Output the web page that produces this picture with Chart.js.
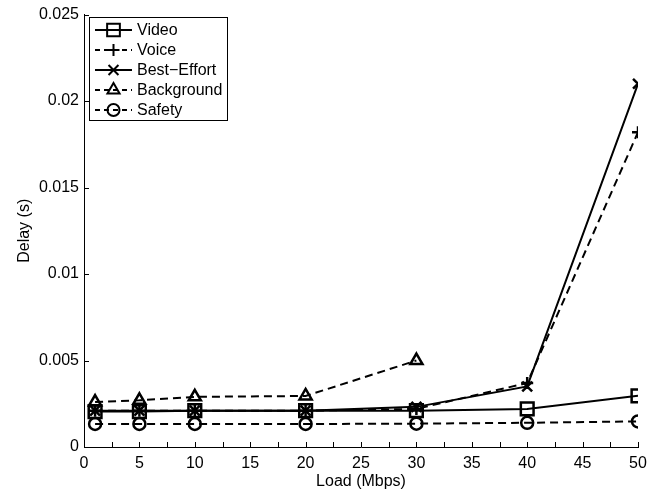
<!DOCTYPE html>
<html>
<head>
<meta charset="utf-8">
<script src="https://cdn.jsdelivr.net/npm/chart.js@4"></script>
<style>
  html,body{margin:0;padding:0;background:#fff;}
  #wrap{width:656px;height:493px;}
</style>
</head>
<body>
<div id="wrap"><canvas id="ch" width="656" height="493"></canvas></div>
<script>
// data
const loads = [1, 5, 10, 20, 30, 40, 50];
const videoDelay = [0.00205, 0.00205, 0.0021, 0.0021, 0.0021, 0.0022, 0.00296];
const voiceDelay = [0.0021, 0.0021, 0.0021, 0.0021, 0.0022, 0.0037, 0.0182];
const bestEffortDelay = [0.0021, 0.0021, 0.0021, 0.0021, 0.00232, 0.0035, 0.0210];
const backgroundDelay = [0.0026, 0.0027, 0.0029, 0.00295, 0.0050];
const safetyDelay = [0.00133, 0.00133, 0.00133, 0.00133, 0.00135, 0.0014, 0.00148];
const xTicks = [0, 5, 10, 15, 20, 25, 30, 35, 40, 45, 50];
const yTicks = [0, 0.005, 0.01, 0.015, 0.02, 0.025];

const FONT = 'Liberation Sans, Arial, Helvetica, sans-serif';
const DASH = [8, 5];

function pts(ys){ return ys.map((y,i)=>({x:loads[i], y})); }

function series(label, ys, style, radius, dashed){
  return {
    label, data: pts(ys),
    borderColor:'#000', borderWidth:2, borderDash: dashed ? DASH : [],
    pointStyle: style, pointRadius: radius, pointBorderWidth: 2.5,
    pointBorderColor:'#000', pointBackgroundColor:'rgba(0,0,0,0)',
    fill:false, tension:0
  };
}

// inward tick marks, matlab style
const inwardTicks = {
  id:'inwardTicks',
  afterDraw(chart){
    const {ctx, chartArea:a, scales:{x, y}} = chart;
    ctx.save();
    ctx.strokeStyle = '#000'; ctx.lineWidth = 1;
    ctx.beginPath();
    for(let v=0; v<=50; v+=2.5){
      const px = Math.round(x.getPixelForValue(v)) + 0.5;
      ctx.moveTo(px, a.bottom); ctx.lineTo(px, a.bottom-5);
    }
    for(const v of yTicks){
      const py = Math.round(y.getPixelForValue(v)) + 0.5;
      ctx.moveTo(a.left, py); ctx.lineTo(a.left+5, py);
    }
    ctx.stroke();
    ctx.restore();
  }
};

// boxed legend with line + marker samples
const boxLegend = {
  id:'boxLegend',
  afterDraw(chart){
    const ctx = chart.ctx;
    const x0 = 89.5, y0 = 17.5, w = 138, h = 103, rowH = 20;
    ctx.save();
    ctx.fillStyle = '#fff'; ctx.strokeStyle = '#000'; ctx.lineWidth = 1;
    ctx.fillRect(x0, y0, w, h); ctx.strokeRect(x0, y0, w, h);
    ctx.font = '16px ' + FONT;
    ctx.textBaseline = 'middle';
    chart.data.datasets.forEach((ds, i) => {
      const cy = 30 + i*rowH;
      ctx.lineWidth = 2;
      ctx.setLineDash(ds.borderDash.length ? [5, 4] : []);
      ctx.beginPath(); ctx.moveTo(95, cy); ctx.lineTo(132, cy); ctx.stroke();
      ctx.setLineDash([]);
      ctx.fillStyle = 'rgba(0,0,0,0)';
      ctx.strokeStyle = '#000';
      Chart.helpers.drawPoint(ctx, {pointStyle: ds.pointStyle, radius: ds.pointRadius, rotation:0, borderWidth:2.5}, 113.5, cy);
      ctx.fillStyle = '#000';
      ctx.fillText(ds.label, 137, cy+1);
    });
    ctx.restore();
  }
};

new Chart(document.getElementById('ch'), {
  type:'line',
  data:{
    datasets:[
      series('Video', videoDelay, 'rect', 9, false),
      series('Voice', voiceDelay, 'cross', 6, true),
      series('Best\u2212Effort', bestEffortDelay, 'crossRot', 7, false),
      series('Background', backgroundDelay, 'triangle', 7, true),
      series('Safety', safetyDelay, 'circle', 6, true)
    ]
  },
  options:{
    responsive:false, animation:false, devicePixelRatio:1,
    layout:{ padding:{ top:14, right:18, left:0, bottom:0 } },
    plugins:{ legend:{display:false}, tooltip:{enabled:false} },
    elements:{ line:{ borderCapStyle:'butt' } },
    scales:{
      x:{
        type:'linear', min:0, max:50,
        afterFit(s){ s.height = 46; },
        afterBuildTicks(s){ s.ticks = xTicks.map(v=>({value:v})); },
        grid:{ display:false, drawTicks:false },
        border:{ display:true, color:'#000', width:1 },
        ticks:{ color:'#000', font:{family:FONT, size:16}, padding:7, maxRotation:0, autoSkip:false,
          callback:v=>String(v) },
        title:{ display:true, text:'Load (Mbps)', color:'#000', font:{family:FONT, size:16}, padding:{top:0, bottom:2} }
      },
      y:{
        min:0, max:0.025,
        afterFit(s){ s.width = 84; },
        afterBuildTicks(s){ s.ticks = yTicks.map(v=>({value:v})); },
        grid:{ display:false, drawTicks:false },
        border:{ display:true, color:'#000', width:1 },
        ticks:{ color:'#000', font:{family:FONT, size:16}, padding:5,
          callback:v=>String(+v.toFixed(4)) },
        title:{ display:true, text:'Delay (s)', color:'#000', font:{family:FONT, size:16}, padding:{top:15, bottom:0} }
      }
    }
  },
  plugins:[inwardTicks, boxLegend]
});
</script>
</body>
</html>
